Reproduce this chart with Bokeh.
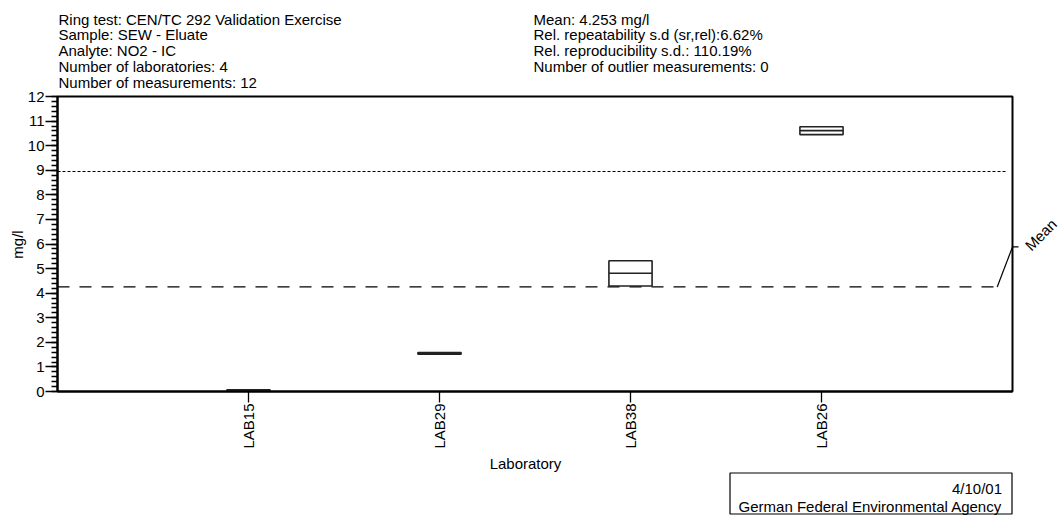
import math
from bokeh.plotting import figure
from bokeh.models import Range1d, SingleIntervalTicker, FixedTicker, Label, Arrow, BoxAnnotation
from bokeh.embed import file_html
from bokeh.resources import INLINE

# ---------------- data ----------------
labs = ["LAB15", "LAB29", "LAB38", "LAB26"]
q1 = [0.02, 1.52, 4.29, 10.45]
median = [0.04, 1.55, 4.81, 10.61]
q3 = [0.07, 1.58, 5.32, 10.77]
mean_value = 4.253
upper_limit = 8.95
y_ticks = list(range(0, 13))
header_left = [
    "Ring test: CEN/TC 292 Validation Exercise",
    "Sample: SEW - Eluate",
    "Analyte: NO2 - IC",
    "Number of laboratories: 4",
    "Number of measurements: 12",
]
header_right = [
    "Mean: 4.253 mg/l",
    "Rel. repeatability s.d (sr,rel):6.62%",
    "Rel. reproducibility s.d.: 110.19%",
    "Number of outlier measurements: 0",
]
x_title = "Laboratory"
y_title = "mg/l"
mean_title = "Mean"
footer = ["4/10/01", "German Federal Environmental Agency"]

# ---------------- layout ----------------
W, H = 1062, 519
FL, FT, FW, FH = 57, 96, 955, 295          # plot box inside the canvas (pixels)
X_MAX = len(labs) + 1
Y_MAX = y_ticks[-1]
FONT = "Liberation Sans"
FS = "15px"
ux = X_MAX / FW      # data units per pixel
uy = Y_MAX / FH


def to_x(px):
    return (px - FL) * ux


def to_y(py):
    return Y_MAX - (py - FT) * uy


def text(x, y, t, align="left", baseline="alphabetic", angle=0, **kw):
    p.add_layout(Label(x=x, y=y, text=t, text_align=align, text_baseline=baseline, angle=angle,
                       text_font=FONT, text_font_size=FS, text_color="black", **kw))


p = figure(width=W, height=H,
           x_range=Range1d(to_x(0), to_x(W)), y_range=Range1d(to_y(H), to_y(0)),
           output_backend="svg", toolbar_location=None,
           min_border=0, min_border_left=0, min_border_right=0, min_border_top=0, min_border_bottom=0)
p.grid.visible = False
p.outline_line_color = None
p.background_fill_color = "white"
p.border_fill_color = "white"

# plot box
p.add_layout(BoxAnnotation(left=0, right=X_MAX, bottom=0, top=Y_MAX, fill_color=None, fill_alpha=0,
                           line_color="black", line_width=2, line_alpha=1, level="underlay"))

# x axis
xs = [i + 1 for i in range(len(labs))]
p.xaxis.fixed_location = 0
p.xaxis.bounds = (0, X_MAX)
p.xaxis.ticker = FixedTicker(ticks=xs)
p.xaxis.major_label_overrides = {x: lab for x, lab in zip(xs, labs)}
p.xaxis.major_label_orientation = math.pi / 2
p.xaxis.minor_tick_line_color = None
p.xaxis.major_tick_out = 11
p.xaxis.major_tick_in = 0
p.xaxis.major_label_standoff = 1

# y axis
p.yaxis.fixed_location = 0
p.yaxis.bounds = (0, Y_MAX)
p.yaxis.ticker = SingleIntervalTicker(interval=1, num_minor_ticks=5)
p.yaxis.major_tick_out = 12
p.yaxis.major_tick_in = 0
p.yaxis.minor_tick_out = 6
p.yaxis.minor_tick_in = 0
p.yaxis.major_label_standoff = 1

for ax in p.xaxis + p.yaxis:
    ax.axis_line_color = "black"
    ax.axis_line_width = 2
    ax.major_tick_line_color = "black"
    ax.major_tick_line_width = 1.3
    ax.minor_tick_line_width = 1.3
    ax.major_label_text_font = FONT
    ax.major_label_text_font_size = FS
    ax.major_label_text_color = "black"

# axis titles
text(to_x(525), to_y(463), x_title, align="center")
text(to_x(17), to_y(244), y_title, align="center", baseline="middle", angle=math.pi / 2)

# reference lines
p.segment(x0=[0], y0=[upper_limit], x1=[to_x(1005.7)], y1=[upper_limit],
          line_color="black", line_width=1.2, line_dash="3 2")
p.segment(x0=[0], y0=[mean_value], x1=[to_x(996.7)], y1=[mean_value],
          line_color="black", line_width=1.2, line_dash="12 10")

# boxes
hw = 0.113
p.quad(left=[x - hw for x in xs], right=[x + hw for x in xs], bottom=q1, top=q3,
       fill_color=None, line_color="#222222", line_width=1.6)
p.segment(x0=[x - hw for x in xs], y0=median, x1=[x + hw for x in xs], y1=median,
          line_color="#222222", line_width=1.6)

# mean leader + label
lead_y = mean_value + 40 * uy
p.add_layout(Arrow(end=None, x_start=to_x(996.7), y_start=mean_value, x_end=X_MAX, y_end=lead_y,
                   line_color="black", line_width=1.2))
p.add_layout(Arrow(end=None, x_start=X_MAX, y_start=lead_y, x_end=X_MAX + 6 * ux, y_end=lead_y,
                   line_color="black", line_width=1.2))
text(X_MAX + 6 * ux, lead_y, mean_title, angle=math.pi / 4, x_offset=9, y_offset=-1)

# header
for i, t in enumerate(header_left):
    text(to_x(58), to_y(18.5 + 15.75 * i), t)
for i, t in enumerate(header_right):
    text(to_x(533), to_y(18.5 + 15.75 * i), t)

# footer box
bx_l, bx_r, bx_t, bx_b = 729.5, 1011.5, 472.5, 513.5
p.add_layout(BoxAnnotation(left=to_x(bx_l), right=to_x(bx_r), bottom=to_y(bx_b), top=to_y(bx_t),
                           fill_alpha=0, fill_color=None, line_color="black", line_width=1.2, line_alpha=1))
text(to_x(bx_r - 10), to_y(bx_t + 15), footer[0], align="right")
text(to_x(bx_r - 10), to_y(bx_t + 33), footer[1], align="right")

open("out.html", "w").write(file_html(p, INLINE))
